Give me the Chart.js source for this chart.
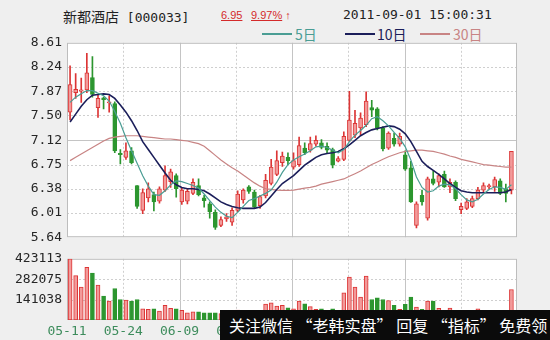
<!DOCTYPE html>
<html>
<head>
<meta charset="utf-8">
<script src="https://cdn.jsdelivr.net/npm/chart.js@4.4.0/dist/chart.umd.min.js"></script>
<style>
  body { margin: 0; width: 550px; height: 340px; background: #efefef; position: relative; overflow: hidden; }
  .abs { position: absolute; white-space: nowrap; }
  .mono { font-family: "DejaVu Sans Mono", monospace; font-size: 13px; }
  .cjk { font-family: "Noto Sans CJK SC", sans-serif; }
  .quote { font-family: "Liberation Sans", sans-serif; font-size: 11px; color: #d42a2a; }
  #mainBox { position: absolute; left: 0; top: 30px; width: 550px; height: 220px; }
  #volBox { position: absolute; left: 0; top: 246px; width: 550px; height: 94px; }
  .key { position: absolute; height: 0; border-top: 2px solid; width: 30px; }
  #banner { position: absolute; left: 220px; top: 310px; width: 330px; height: 30px; background: #0b0b0b;
            color: #fff; font-family: "Noto Sans CJK SC", sans-serif; font-size: 16px; line-height: 30px;
            padding-left: 9px; box-sizing: border-box; white-space: nowrap; }
</style>
</head>
<body>
<div class="abs" style="left:63px; top:6px; color:#222;">
  <span class="cjk" style="font-size:14px;">新都酒店</span><span class="mono"> [000033]</span>
</div>
<div class="abs quote" style="left:221px; top:9px; text-decoration:underline;">6.95</div>
<div class="abs quote" style="left:251px; top:9px;"><span style="text-decoration:underline;">9.97%</span> ↑</div>
<div class="abs mono" style="left:343px; top:7px; color:#222;">2011-09-01 15:00:31</div>

<div class="key" id="k5" style="left:262px; top:33px;"></div>
<div class="abs cjk" id="t5" style="left:295px; top:24px; font-size:14px;">5日</div>
<div class="key" id="k10" style="left:345px; top:33px;"></div>
<div class="abs cjk" id="t10" style="left:377px; top:24px; font-size:14px;">10日</div>
<div class="key" id="k30" style="left:420px; top:33px;"></div>
<div class="abs cjk" id="t30" style="left:453px; top:24px; font-size:14px;">30日</div>

<div id="mainBox"><canvas id="mainChart"></canvas></div>
<div id="volBox"><canvas id="volChart"></canvas></div>
<div id="banner">关注微信 “老韩实盘” 回复 “指标” 免费领</div>

<script>
// daily candles, 2011-05-11 .. 2011-09-01
const opens  = [7.55,7.85,7.87,7.89,8.08,7.62,7.77,7.69,7.68,6.92, 6.86,6.96,6.43,6.05,6.24,6.29,6.19,6.36,6.49,6.58,
                6.18,6.19,6.31,6.43,6.24,6.15,6.02,5.82,5.92,5.87, 6.05,6.21,6.41,6.33,6.12,6.27,6.46,6.60,6.78,6.86,
                6.71,6.75,7.00,6.97,7.06,7.08,7.03,6.98,6.80,6.83, 7.12,7.20,7.31,7.36,7.62,7.60,7.31,7.00,7.15,7.06,
                6.90,6.70,5.82,6.28,5.93,6.53,6.48,6.60,6.41,6.48, 6.06,6.08,6.11,6.23,6.36,6.41,6.41,6.50,6.38,6.36];
const closes = [7.97,7.90,7.89,8.15,7.82,7.76,7.74,7.71,6.96,6.90, 6.96,6.78,6.11,6.32,6.38,6.18,6.38,6.58,6.64,6.38,
                6.36,6.34,6.48,6.29,6.20,6.03,5.79,5.91,5.95,6.05, 6.30,6.36,6.34,6.10,6.26,6.51,6.71,6.81,6.88,6.81,
                6.81,7.04,6.93,7.07,7.12,7.01,6.97,6.74,6.84,7.18, 7.43,7.38,7.46,7.72,7.58,7.31,6.99,7.23,7.06,7.18,
                6.68,6.18,6.15,6.18,6.53,6.46,6.58,6.41,6.48,6.23, 6.11,6.18,6.23,6.36,6.43,6.43,6.52,6.31,6.31,6.95];
const highs  = [8.26,8.14,8.07,8.45,8.40,7.81,7.78,7.80,7.71,6.98, 7.08,7.01,6.43,6.38,6.47,6.33,6.41,6.73,6.68,6.61,
                6.39,6.37,6.53,6.53,6.28,6.18,6.06,5.95,6.00,6.09, 6.35,6.38,6.43,6.36,6.28,6.60,6.83,6.96,6.94,6.93,
                6.93,7.17,7.08,7.17,7.19,7.13,7.08,7.00,6.87,7.25, 7.87,7.58,7.54,7.86,7.73,7.62,7.33,7.25,7.23,7.23,
                6.96,6.80,6.18,6.36,6.56,6.65,6.61,6.65,6.53,6.50, 6.16,6.23,6.27,6.40,6.47,6.45,6.56,6.53,6.45,6.95];
const lows   = [7.43,7.76,7.70,7.85,7.78,7.47,7.60,7.55,6.93,6.76, 6.83,6.76,6.08,6.00,6.18,6.04,6.16,6.34,6.40,6.25,
                6.14,6.15,6.29,6.27,6.10,5.93,5.76,5.80,5.88,5.82, 6.03,6.16,6.31,6.08,6.08,6.24,6.44,6.58,6.72,6.75,
                6.68,6.72,6.90,6.94,7.03,6.99,6.93,6.70,6.79,6.81, 7.10,7.16,7.20,7.33,7.48,7.28,6.96,6.98,7.03,7.03,
                6.66,6.17,5.78,6.13,5.90,6.44,6.41,6.40,6.32,6.20, 6.00,6.06,6.09,6.21,6.33,6.38,6.34,6.29,6.18,6.30];
const volumes = [423113,307000,227000,365000,325000,241000,165000,131000,218000,142000,
                 138000,131000,142000,78000,74000,78000,62000,101000,80000,78000,
                 67000,50000,57000,57000,50000,50000,50000,45000,40000,48000,
                 69000,60000,55000,50000,55000,110000,119000,96000,101000,85000,
                 78000,131000,112000,92000,74000,78000,62000,78000,57000,188000,
                 296000,227000,158000,303000,142000,153000,142000,135000,101000,74000,
                 108000,158000,89000,74000,131000,131000,80000,60000,83000,55000,
                 45000,42000,40000,78000,50000,40000,45000,50000,48000,211000];
const ma5  = [7.70,7.78,7.83,7.88,7.88,7.84,7.80,7.72,7.56,7.38, 7.16,6.96,6.77,6.58,6.42,6.29,6.28,6.35,6.44,6.50,
              6.49,6.46,6.43,6.39,6.30,6.20,6.10,6.02,5.96,5.94, 6.02,6.11,6.20,6.23,6.27,6.31,6.36,6.48,6.63,6.75,
              6.82,6.87,6.91,6.96,7.02,7.03,7.01,6.97,6.93,6.98, 7.10,7.20,7.27,7.35,7.45,7.48,7.42,7.34,7.24,7.15,
              7.02,6.82,6.56,6.40,6.33,6.35,6.42,6.45,6.44,6.38, 6.29,6.21,6.18,6.22,6.30,6.37,6.41,6.40,6.37,6.44];
const ma10 = [7.40,7.52,7.64,7.74,7.81,7.82,7.83,7.82,7.76,7.66, 7.55,7.42,7.27,7.10,6.98,6.86,6.74,6.62,6.51,6.44,
              6.40,6.38,6.38,6.37,6.35,6.30,6.24,6.18,6.14,6.11, 6.09,6.08,6.08,6.08,6.10,6.17,6.27,6.37,6.46,6.52,
              6.58,6.66,6.74,6.80,6.86,6.90,6.92,6.93,6.95,6.99, 7.05,7.12,7.19,7.24,7.28,7.30,7.32,7.34,7.33,7.29,
              7.22,7.10,6.95,6.80,6.72,6.66,6.60,6.53,6.46,6.40, 6.35,6.33,6.32,6.32,6.32,6.32,6.32,6.32,6.33,6.37];
const ma30 = [6.81,6.86,6.91,6.96,7.01,7.06,7.11,7.15,7.17,7.18, 7.19,7.19,7.19,7.18,7.17,7.16,7.15,7.14,7.14,7.13,
              7.12,7.11,7.09,7.07,7.03,6.96,6.89,6.82,6.76,6.70, 6.65,6.59,6.53,6.47,6.42,6.38,6.37,6.36,6.355,6.355,
              6.36,6.375,6.39,6.40,6.42,6.45,6.47,6.49,6.51,6.53, 6.57,6.61,6.65,6.70,6.75,6.79,6.83,6.87,6.90,6.93,
              6.95,6.96,6.97,6.97,6.96,6.95,6.93,6.91,6.88,6.86, 6.83,6.81,6.79,6.77,6.75,6.74,6.73,6.72,6.71,6.71];
const priceTicks = ['8.61','8.24','7.87','7.50','7.12','6.75','6.38','6.01','5.64'];
const volumeTicks = ['423113','282075','141038'];
const dateLabels = ['05-11','05-24','06-09','06-22','07-06','07-20','08-03','08-17'];

const UP = '#dc3535', UP_FILL = '#f29a9a', DOWN = '#2c962f';
const MA5_C = '#4a9d94', MA10_C = '#1b1e5a', MA30_C = '#c88484';
const xMin = -0.55, xMax = 80;
const monoFont = { family: 'DejaVu Sans Mono', size: 13 };

[['k5', 't5', MA5_C], ['k10', 't10', MA10_C], ['k30', 't30', MA30_C]].forEach(([k, t, c]) => {
  document.getElementById(k).style.borderColor = c;
  document.getElementById(t).style.color = c;
});

const idx = opens.map((_, i) => i);
const isUp = i => closes[i] >= opens[i];

// white panel with the alternating solid / dotted grid
const panel = {
  id: 'panel',
  beforeDatasetsDraw(chart, args, opts) {
    const { ctx, chartArea: a, scales } = chart;
    ctx.save();
    ctx.fillStyle = '#fff';
    ctx.fillRect(a.left, a.top, a.width, a.height);
    ctx.lineWidth = 1;
    for (let k = 1; k < 8; k++) {
      const x = Math.round(scales.x.getPixelForValue(xMin + k * (xMax - xMin) / 8)) + 0.5;
      ctx.strokeStyle = k % 2 ? '#cfcfcf' : '#c4c4c4';
      ctx.setLineDash(k % 2 ? [2, 2] : []);
      ctx.beginPath(); ctx.moveTo(x, a.top); ctx.lineTo(x, a.bottom); ctx.stroke();
    }
    opts.lines.forEach(v => {
      const y = Math.round(scales.y.getPixelForValue(v)) + 0.5;
      const solid = v === opts.solid;
      ctx.strokeStyle = solid ? '#c4c4c4' : '#cfcfcf';
      ctx.setLineDash(solid ? [] : [2, 2]);
      ctx.beginPath(); ctx.moveTo(a.left, y); ctx.lineTo(a.right, y); ctx.stroke();
    });
    ctx.setLineDash([]);
    ctx.strokeStyle = '#bdbdbd';
    ctx.strokeRect(a.left + 0.5, a.top + 0.5, a.width - 1, a.height - 1);
    ctx.restore();
  }
};

const priceVals = priceTicks.map(Number);
const maLine = (label, vals, color, width) => ({
  type: 'line', label, data: idx.map(i => ({ x: i, y: vals[i] })),
  borderColor: color, borderWidth: width, pointRadius: 0, tension: 0, fill: false, order: 0
});

new Chart(document.getElementById('mainChart'), {
  type: 'bar',
  data: {
    datasets: [
      maLine('5日', ma5, MA5_C, 1.2),
      maLine('10日', ma10, MA10_C, 1.6),
      maLine('30日', ma30, MA30_C, 1.2),
      {
        label: 'body', data: idx.map(i => ({ x: i, y: [opens[i], closes[i]] })),
        backgroundColor: idx.map(i => isUp(i) ? UP_FILL : DOWN),
        borderColor: idx.map(i => isUp(i) ? UP : DOWN),
        borderWidth: 1, borderSkipped: false, barThickness: 4, grouped: false, order: 1
      },
      {
        label: 'wick', data: idx.map(i => ({ x: i, y: [lows[i], highs[i]] })),
        backgroundColor: idx.map(i => isUp(i) ? UP : DOWN),
        borderWidth: 0, barThickness: 1, grouped: false, order: 2
      }
    ]
  },
  options: {
    animation: false, responsive: true, maintainAspectRatio: false,
    layout: { padding: { top: 12, right: 33, bottom: 8, left: 0 } },
    plugins: {
      legend: { display: false }, tooltip: { enabled: false },
      panel: { lines: priceVals.slice(1, -1), solid: 7.12 }
    },
    scales: {
      x: { type: 'linear', min: xMin, max: xMax, offset: false, display: false },
      y: {
        min: 5.64, max: 8.61,
        afterBuildTicks: s => { s.ticks = priceVals.map(v => ({ value: v })); },
        afterFit: s => { s.width = 67; },
        grid: { display: false, drawTicks: false }, border: { display: false },
        ticks: { padding: 5, color: '#262626', font: monoFont, callback: (v, i) => priceTicks[i] }
      }
    }
  },
  plugins: [panel]
});

const volVals = volumeTicks.map(Number);
new Chart(document.getElementById('volChart'), {
  type: 'bar',
  data: {
    datasets: [{
      label: 'volume', data: idx.map(i => ({ x: i, y: volumes[i] })),
      backgroundColor: idx.map(i => isUp(i) ? UP_FILL : DOWN),
      borderColor: idx.map(i => isUp(i) ? UP : DOWN),
      borderWidth: 1, borderSkipped: false, barThickness: 4, grouped: false
    }]
  },
  options: {
    animation: false, responsive: true, maintainAspectRatio: false,
    layout: { padding: { top: 10, right: 33, bottom: 0, left: 0 } },
    plugins: {
      legend: { display: false }, tooltip: { enabled: false },
      panel: { lines: volVals.slice(1), solid: null }
    },
    scales: {
      x: {
        type: 'linear', min: xMin, max: xMax, offset: false,
        afterBuildTicks: s => { s.ticks = dateLabels.map((_, k) => ({ value: xMin + k * (xMax - xMin) / 8 })); },
        afterFit: s => { s.height = 20; },
        grid: { display: false, drawTicks: false }, border: { display: false },
        ticks: { autoSkip: false, maxRotation: 0, padding: 4, color: '#3d8c5c', font: monoFont,
                 callback: (v, i) => dateLabels[i] }
      },
      y: {
        min: 0, max: volVals[0],
        afterBuildTicks: s => { s.ticks = volVals.map(v => ({ value: v })); },
        afterFit: s => { s.width = 67; },
        grid: { display: false, drawTicks: false }, border: { display: false },
        ticks: { padding: 5, color: '#262626', font: monoFont, callback: (v, i) => volumeTicks[i] }
      }
    }
  },
  plugins: [panel]
});
</script>
</body>
</html>
